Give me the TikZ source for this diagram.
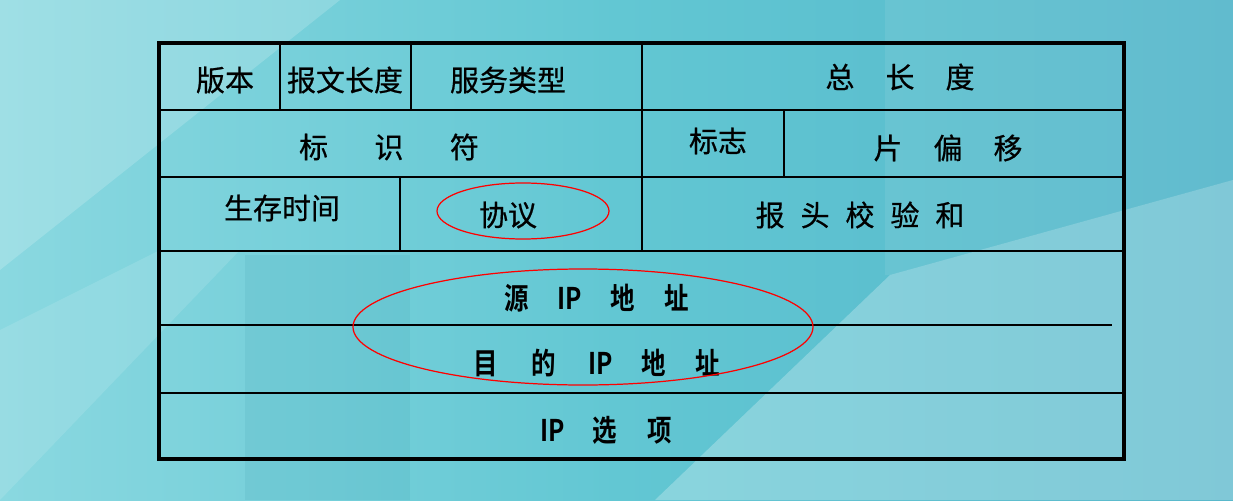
\documentclass[tikz,border=0pt]{standalone}
\usepackage{fontspec}
\usepackage{tikz}
\newfontfamily\cjk[FakeBold=0.6]{Noto Sans CJK SC}
\newfontfamily\cjkb[FakeStretch=0.82]{Noto Sans CJK SC Bold}
\definecolor{bgl}{RGB}{138,216,224}
\definecolor{bgm}{RGB}{98,199,211}
\definecolor{bgr}{RGB}{84,182,202}
\definecolor{bgd}{RGB}{40,140,160}
\newcommand{\wgap}[1]{\hspace{#1em}}

\begin{document}
\begin{tikzpicture}[x=0.02cm, y=-0.02cm,
	every node/.style={font=\cjk\fontsize{16.5}{18}\selectfont, inner sep=0pt},
	big/.style={font=\cjkb\fontsize{17}{19}\selectfont},
	grid/.style={line width=1.2pt},
	frame/.style={line width=2.4pt},
	ring/.style={red, line width=0.7pt}]
	\useasboundingbox (0,0) rectangle (1233,500);
	% background
	\shade[left color=bgl, right color=bgr, middle color=bgm] (0,0) rectangle (1233,500);
	\fill[white, opacity=0.18] (0,0) -- (340,0) -- (0,270) -- cycle;
	\fill[white, opacity=0.12] (0,330) -- (160,250) -- (240,250) -- (0,500) -- cycle;
	\fill[bgd, opacity=0.10] (245,255) -- (410,255) -- (410,500) -- (245,500) -- cycle;
	\fill[white, opacity=0.26] (655,500) -- (890,275) -- (1233,180) -- (1233,500) -- cycle;
	\fill[white, opacity=0.08] (885,0) -- (1233,0) -- (1233,180) -- (890,275) -- (885,275) -- cycle;
	% table
	\draw[grid] (159,110) -- (1124,110);
	\draw[grid] (159,177) -- (1124,177);
	\draw[grid] (159,251) -- (1124,251);
	\draw[grid] (159,325) -- (1112,325);
	\draw[grid] (159,393) -- (1124,393);
	\draw[grid] (280,43) -- (280,110);
	\draw[grid] (411,43) -- (411,110);
	\draw[grid] (642,43) -- (642,251);
	\draw[grid] (784,110) -- (784,177);
	\draw[grid] (400,177) -- (400,251);
	\draw[frame] (159,43) rectangle (1124,459);
	% fields
	\node (ver) at (225,80) {版本};
	\node (ihl) at (345,80) {报文长度};
	\node (tos) at (508,80) {服务类型};
	\node (len) at (900,77) {总\wgap{1.07}长\wgap{1.07}度};
	\node (idf) at (389,147) {标\wgap{1.6}识\wgap{1.6}符};
	\node (flg) at (718,141) {标志};
	\node (off) at (948,148) {片\wgap{1.07}偏\wgap{1.07}移};
	\node (ttl) at (282,208) {生存时间};
	\node (pro) at (508,215) {协议};
	\node (chk) at (860,215) {报\wgap{.55}头\wgap{.55}校\wgap{.55}验\wgap{.55}和};
	\node[big] (src) at (597,298) {源\wgap{.95}IP\wgap{.95}地\wgap{1.0}址};
	\node[big] (dst) at (597,363) {目\wgap{1.1}的\wgap{1.1}IP\wgap{.95}地\wgap{1.0}址};
	\node[big] (opt) at (606,430) {IP\wgap{.95}选\wgap{1.0}项};
	% highlight rings
	\draw[ring] (523,211) ellipse [x radius=86, y radius=28];
	\draw[ring] (583,327) ellipse [x radius=230, y radius=58];
\end{tikzpicture}
\end{document}
